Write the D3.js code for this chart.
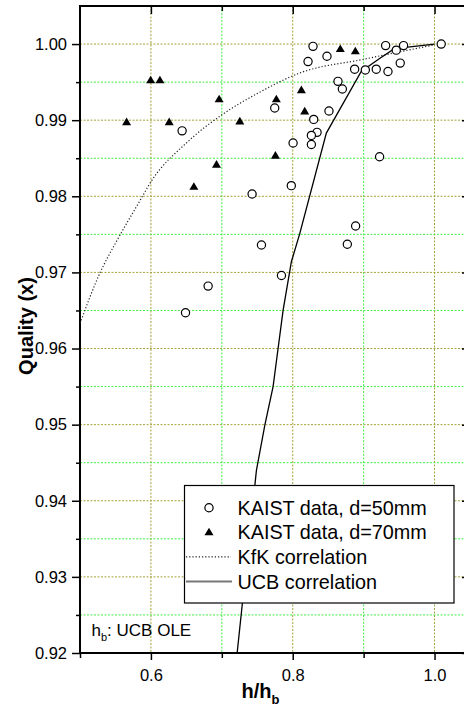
<!DOCTYPE html>
<html><head><meta charset="utf-8">
<script src="https://cdn.jsdelivr.net/npm/d3@7"></script>
<style>
html,body{margin:0;padding:0;background:#fff;}
svg{display:block;font-family:"Liberation Sans",Arial,sans-serif;}
</style></head>
<body>
<svg id="c" width="464" height="713"></svg>
<script>
// ---- data ----
const kaist50H = [0.644,0.7746,0.8005,0.798,0.7427,0.7559,0.7841,0.6807,0.6488,0.8286,0.8216,0.8483,0.8873,0.9024,0.9178,0.9343,0.9310,0.9460,0.9563,1.0094,0.9516,0.8638,0.8700,0.8511,0.8296,0.8343,0.8263,0.8263,0.9225,0.8887,0.8770];
const kaist50X = [0.9886,0.9916,0.9870,0.9814,0.9803,0.9736,0.9696,0.9682,0.9647,0.9997,0.9977,0.9984,0.9967,0.9966,0.9967,0.9964,0.9998,0.9992,0.9998,1.0000,0.9975,0.9951,0.9941,0.9912,0.9901,0.9884,0.9880,0.9868,0.9852,0.9761,0.9737];
const kaist70H = [0.5657,0.5996,0.6127,0.6258,0.6606,0.6925,0.6962,0.7254,0.7756,0.7769,0.8122,0.8169,0.8671,0.8883];
const kaist70X = [0.9898,0.9953,0.9953,0.9898,0.9813,0.9842,0.9928,0.9899,0.9854,0.9928,0.9940,0.9912,0.9994,0.9991];
const kfkH = [0.500,0.528,0.554,0.585,0.600,0.650,0.700,0.750,0.810,0.900,1.000];
const kfkX = [0.9633,0.9699,0.9745,0.9795,0.9819,0.9870,0.9907,0.9935,0.9962,0.9980,0.9999];
const ucbH = [0.7216,0.7488,0.7606,0.7723,0.7864,0.7981,0.8099,0.8474,0.8966,0.9225,0.9434,1.0];
const ucbX = [0.920,0.944,0.9499,0.955,0.965,0.9714,0.9751,0.9883,0.9964,0.9981,0.9994,1.0];
const xMajor = [0.6,0.8,1.0];
const xMinor = [0.7,0.9];
const xTickLabels = ["0.6","0.8","1.0"];
const yMajor = [0.92,0.93,0.94,0.95,0.96,0.97,0.98,0.99,1.00];
const yMinor = [0.925,0.935,0.945,0.955,0.965,0.975,0.985,0.995];
const legendLabels = ["KAIST data, d=50mm","KAIST data, d=70mm","KfK correlation","UCB correlation"];

// ---- layout ----
const L=80, R=470, T=6, B=653;
const svg = d3.select("#c");
const x = d3.scaleLinear().domain([0.5,1.05]).range([L,R]);
const y = d3.scaleLinear().domain([0.92,1.005]).range([B,T]);

const majC = "#a3a33a", minC = "#44ee44";
const grid = svg.append("g");
[[xMinor,minC],[xMajor,majC]].forEach(([vals,c])=>{
  grid.selectAll(null).data(vals).enter().append("line")
    .attr("x1",d=>x(d)).attr("x2",d=>x(d)).attr("y1",T).attr("y2",B)
    .attr("stroke",c).attr("stroke-width",1).attr("stroke-dasharray","2,1.5");
});
[[yMinor,minC],[yMajor.filter(v=>v>0.92),majC]].forEach(([vals,c])=>{
  grid.selectAll(null).data(vals).enter().append("line")
    .attr("x1",L).attr("x2",R).attr("y1",d=>y(d)).attr("y2",d=>y(d))
    .attr("stroke",c).attr("stroke-width",1).attr("stroke-dasharray","2,1.5");
});

// axes
function styleAxis(g){ g.selectAll("path").remove(); g.selectAll("line").attr("stroke","#000").attr("stroke-width",1.5);
  g.selectAll("text").attr("fill","#000").style("font-size","16.5px").style("font-family","'Liberation Sans',Arial,sans-serif"); }
const fmt2 = d3.format(".2f");
svg.append("g").attr("transform",`translate(${L},0)`)
  .call(d3.axisLeft(y).tickValues(yMajor).tickFormat(fmt2).tickSize(8).tickPadding(5)).call(styleAxis);
svg.append("g").attr("transform",`translate(${L},0)`)
  .call(d3.axisLeft(y).tickValues(yMinor).tickFormat("").tickSize(4)).call(styleAxis);
svg.append("g").attr("transform",`translate(${R},0)`)
  .call(d3.axisRight(y).tickValues(yMajor).tickFormat("").tickSize(-8)).call(styleAxis);
svg.append("g").attr("transform",`translate(0,${B})`)
  .call(d3.axisBottom(x).tickValues(xMajor).tickFormat((d,i)=>xTickLabels[i]).tickSize(7).tickPadding(9)).call(styleAxis);
svg.append("g").attr("transform",`translate(0,${B})`)
  .call(d3.axisBottom(x).tickValues([0.5].concat(xMinor)).tickFormat("").tickSize(5)).call(styleAxis);
svg.append("g").attr("transform",`translate(0,${T})`)
  .call(d3.axisTop(x).tickValues(xMajor).tickFormat("").tickSize(-8)).call(styleAxis);
svg.append("g").attr("transform",`translate(0,${T})`)
  .call(d3.axisTop(x).tickValues(xMinor).tickFormat("").tickSize(-5)).call(styleAxis);
// frame
svg.append("line").attr("x1",L).attr("x2",L).attr("y1",T-1).attr("y2",B+1).attr("stroke","#000").attr("stroke-width",2);
svg.append("line").attr("x1",L-1).attr("x2",R).attr("y1",B).attr("y2",B).attr("stroke","#000").attr("stroke-width",2);
svg.append("line").attr("x1",L-1).attr("x2",R).attr("y1",T).attr("y2",T).attr("stroke","#000").attr("stroke-width",2);
svg.append("line").attr("x1",R).attr("x2",R).attr("y1",T).attr("y2",B).attr("stroke","#000").attr("stroke-width",2);

// curves
svg.append("defs").append("clipPath").attr("id","clip").append("rect").attr("x",L).attr("y",T).attr("width",R-L).attr("height",B-T);
const kfk = kfkH.map((h,i)=>[h,kfkX[i]]);
const ucb = ucbH.map((h,i)=>[h,ucbX[i]]);
svg.append("path").attr("clip-path","url(#clip)")
  .attr("d",d3.line().x(d=>x(d[0])).y(d=>y(d[1])).curve(d3.curveMonotoneX)(kfk))
  .attr("fill","none").attr("stroke","#222").attr("stroke-width",1.2).attr("stroke-dasharray","1.2,2");
svg.append("path").attr("clip-path","url(#clip)")
  .attr("d",d3.line().x(d=>x(d[0])).y(d=>y(d[1]))(ucb))
  .attr("fill","none").attr("stroke","#000").attr("stroke-width",1.3);

// points
const triType = {draw(ctx,size){ const w=Math.sqrt(size)*0.5, h=w*0.85;
  ctx.moveTo(0,-h*1.1); ctx.lineTo(w,h*0.9); ctx.lineTo(-w,h*0.9); ctx.closePath(); }};
const tri = d3.symbol().type(triType).size(81);
svg.append("g").selectAll("path").data(kaist70H.map((h,i)=>[h,kaist70X[i]])).enter().append("path")
  .attr("d",tri).attr("transform",d=>`translate(${x(d[0])},${y(d[1])})`).attr("fill","#000");
svg.append("g").selectAll("circle").data(kaist50H.map((h,i)=>[h,kaist50X[i]])).enter().append("circle")
  .attr("cx",d=>x(d[0])).attr("cy",d=>y(d[1])).attr("r",4.1)
  .attr("fill","#fff").attr("stroke","#000").attr("stroke-width",1.2);

// legend
const lg = svg.append("g");
lg.append("rect").attr("x",184.5).attr("y",485.5).attr("width",269.5).attr("height",117.5)
  .attr("fill","#fff").attr("stroke","#000").attr("stroke-width",1.2);
const rowY = [507.7,531.9,556.9,581.5];
lg.append("circle").attr("cx",209).attr("cy",rowY[0]).attr("r",4.1).attr("fill","#fff").attr("stroke","#000").attr("stroke-width",1.2);
lg.append("path").attr("d",tri).attr("transform",`translate(209,${rowY[1]})`).attr("fill","#000");
lg.append("line").attr("x1",186).attr("x2",231).attr("y1",rowY[2]).attr("y2",rowY[2]).attr("stroke","#222").attr("stroke-width",1.2).attr("stroke-dasharray","1.2,2");
lg.append("line").attr("x1",186).attr("x2",232).attr("y1",rowY[3]).attr("y2",rowY[3]).attr("stroke","#777").attr("stroke-width",2);
lg.selectAll("text").data(legendLabels).enter().append("text")
  .attr("x",237.5).attr("y",(d,i)=>rowY[i]+7).text(d=>d)
  .style("font-size","19.8px").attr("fill","#000");

// annotation
const an = svg.append("text").attr("x",91.5).attr("y",635.5).style("font-size","17px").attr("fill","#000");
an.append("tspan").text("h");
an.append("tspan").text("b").style("font-size","11px").attr("dy",5);
an.append("tspan").text(": UCB OLE").attr("dy",-5);

// titles
const xt = svg.append("text").attr("x",241.5).attr("y",698).style("font-size","20px").style("font-weight","bold").attr("fill","#000");
xt.append("tspan").text("h/h");
xt.append("tspan").text("b").style("font-size","13px").attr("dy",6);
svg.append("text").attr("transform","translate(33,326) rotate(-90)").attr("text-anchor","middle")
  .style("font-size","20px").style("font-weight","bold").attr("fill","#000").text("Quality (x)");
</script>
</body></html>
